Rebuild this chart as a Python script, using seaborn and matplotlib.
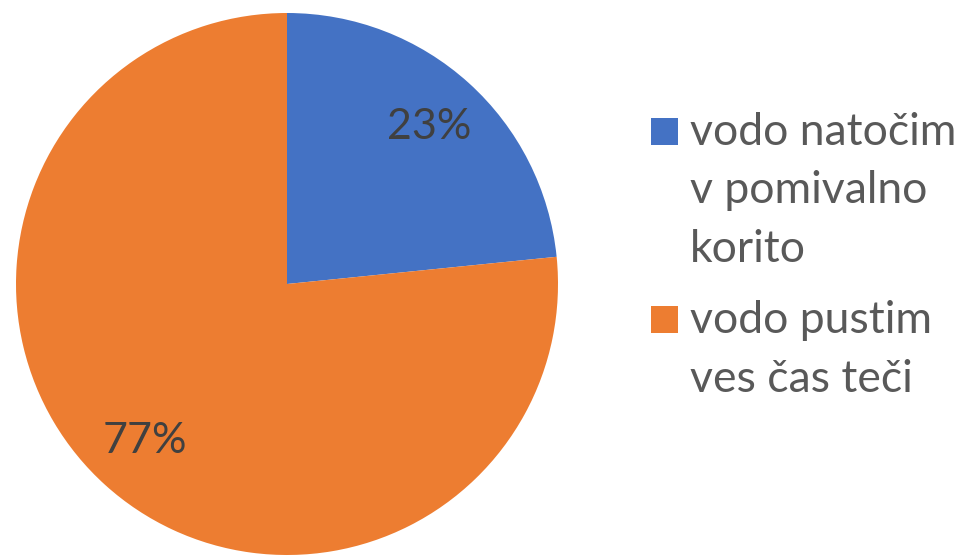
import seaborn as sns
import matplotlib.pyplot as plt
from matplotlib.patches import Rectangle

# data
labels = ["vodo natočim v pomivalno korito", "vodo pustim ves čas teči"]
legend_lines = [["vodo natočim", "v pomivalno", "korito"], ["vodo pustim", "ves čas teči"]]
shares = [23.4, 76.6]
colors = ["#4472C4", "#ED7D31"]

sns.set_theme(style="white")
plt.rcParams["font.family"] = ["Lato", "DejaVu Sans"]

fig = plt.figure(figsize=(9.6, 5.57), dpi=100)
ax = fig.add_axes([16 / 960, 2 / 557, 542 / 960, 542 / 557])

wedges, texts, autotexts = ax.pie(shares, colors=colors, startangle=90, counterclock=False,
                                  autopct="%1.0f%%", pctdistance=0.78,
                                  wedgeprops=dict(linewidth=0))
for t in autotexts:
    t.set_color("#404040")
    t.set_fontsize(31)
ax.set_xlim(-1.0, 1.0)
ax.set_ylim(-1.0, 1.0)
ax.set_aspect("equal")

# legend drawn by hand so the marker sits on the first line
W, H = 960, 557
baselines = [[145, 203, 262], [333, 392]]
for color, lines, ys in zip(colors, legend_lines, baselines):
    fig.patches.append(Rectangle((651 / W, 1 - (ys[0]) / H), 27 / W, 27 / H,
                                 transform=fig.transFigure, facecolor=color, edgecolor="none"))
    for line, y in zip(lines, ys):
        fig.text(690 / W, 1 - y / H, line, fontsize=32, color="#595959", va="baseline", ha="left")

fig.savefig("out.png", dpi=100)
